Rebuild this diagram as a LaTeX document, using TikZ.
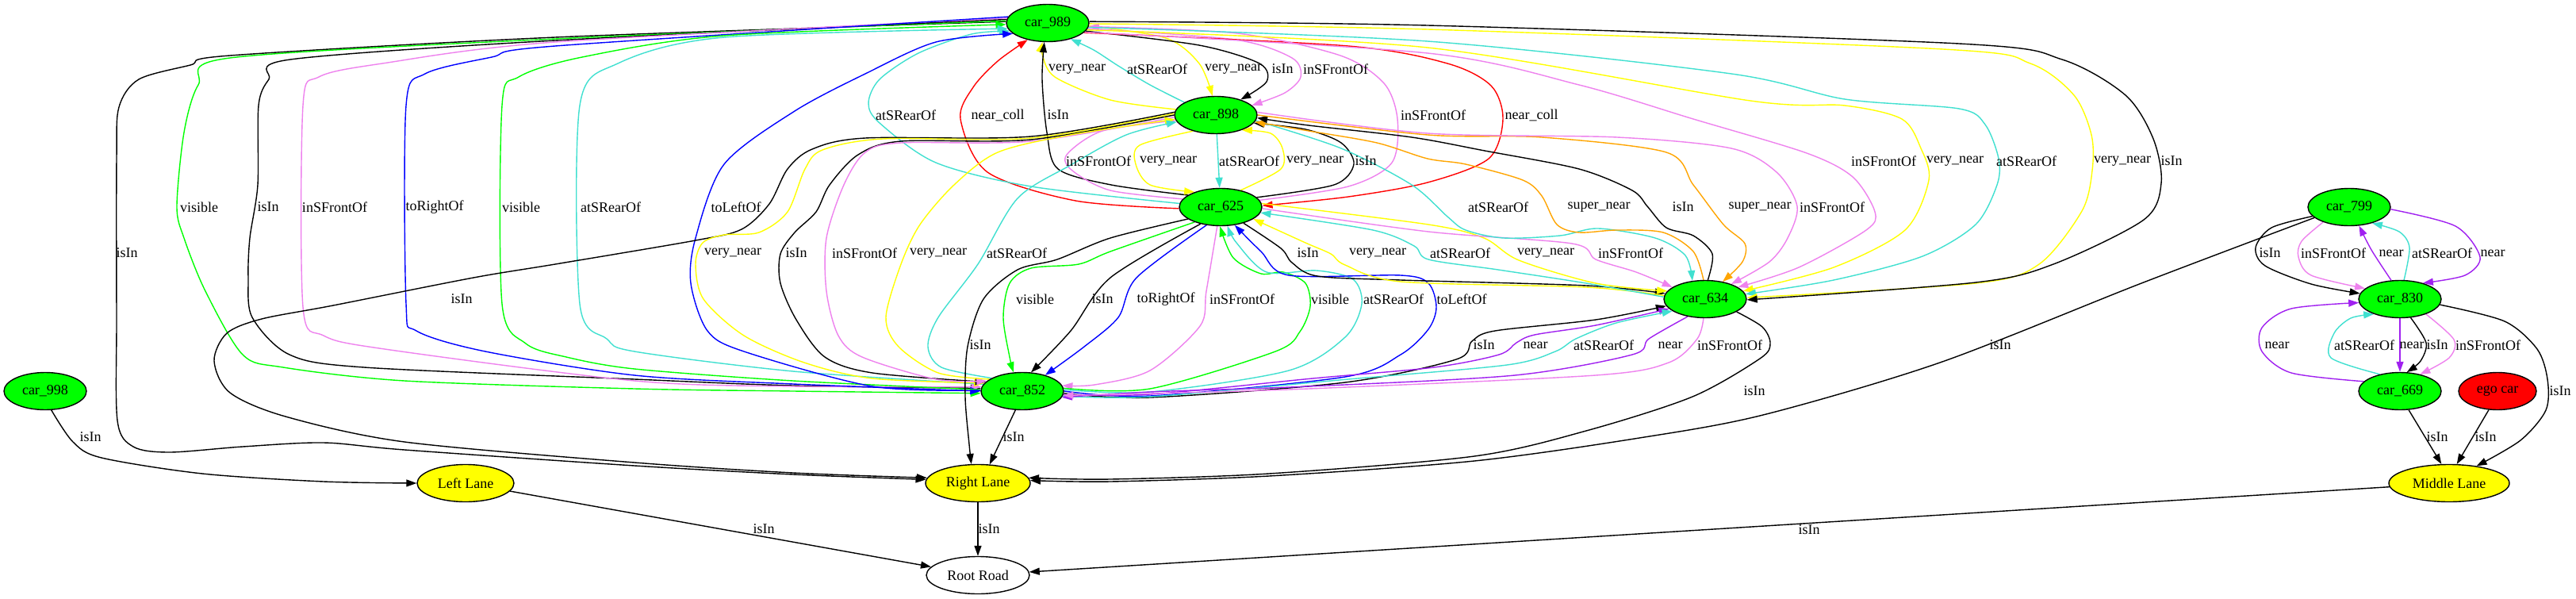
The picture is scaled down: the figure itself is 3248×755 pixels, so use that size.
\documentclass[tikz,border=0pt]{standalone}
\usepackage{fontspec}
\setmainfont{Liberation Serif}
\usetikzlibrary{shapes.geometric,arrows.meta}
\definecolor{gvgreen}{HTML}{00FF00}
\definecolor{gvyellow}{HTML}{FFFF00}
\definecolor{turq}{HTML}{40E0D0}
\definecolor{viol}{HTML}{EE82EE}
\definecolor{gvblue}{HTML}{0000FF}
\definecolor{gvred}{HTML}{FF0000}
\definecolor{gvorange}{HTML}{FFA500}
\definecolor{gvpurple}{HTML}{A020F0}
\pgfdeclarelayer{paper}
\pgfdeclarelayer{bg}
\pgfsetlayers{paper,bg,main}
\begin{document}
\begin{tikzpicture}[x=1pt,y=-1pt, font=\fontsize{18}{20}\selectfont,
 car/.style={ellipse, draw=black, line width=1.4pt, fill=gvgreen, minimum width=104pt, minimum height=47pt, inner sep=0pt},
 lane/.style={car, fill=gvyellow},
 lbl/.style={inner sep=0pt},
 e/.style={line width=1.4pt},
 arr/.style={-{Triangle[length=13pt,width=9pt]}}]
\useasboundingbox (0,0) rectangle (3248,755);
\begin{pgfonlayer}{paper}
\fill[white] (0,0) rectangle (3248,755);
\end{pgfonlayer}
% nodes
\node[car] (n989) at (1321,29) {car\_989};
\node[car] (n898) at (1533,145) {car\_898};
\node[car] (n625) at (1539,261) {car\_625};
\node[car] (n634) at (2150,377) {car\_634};
\node[car] (n852) at (1289,493) {car\_852};
\node[car] (n998) at (57,493) {car\_998};
\node[car] (n799) at (2962,261) {car\_799};
\node[car] (n830) at (3026,377) {car\_830};
\node[car] (n669) at (3026,493) {car\_669};
\node[car, fill=gvred, minimum width=98pt] (nego) at (3149,493) {ego car};
\node[lane, minimum width=122pt] (nll) at (587,609) {Left Lane};
\node[lane, minimum width=132pt] (nrl) at (1233,609) {Right Lane};
\node[lane, minimum width=152pt] (nml) at (3088,609) {Middle Lane};
\node[car, fill=white, minimum width=130pt] (nrr) at (1233,725) {Root Road};
% labels
\node[lbl] (l1) at (1358,87) {very\_near};
\node[lbl] (l2) at (1459,87) {atSRearOf};
\node[lbl] (l3) at (1555,87) {very\_near};
\node[lbl] (l4) at (1617,87) {isIn};
\node[lbl] (l5) at (1684,87) {inSFrontOf};
\node[lbl] (l6) at (1258,145) {near\_coll};
\node[lbl] (l7) at (1334,145) {isIn};
\node[lbl] (l8) at (1142,145) {atSRearOf};
\node[lbl] (l9) at (1931,145) {near\_coll};
\node[lbl] (l10) at (1807,145) {inSFrontOf};
\node[lbl] (l11) at (1385,203) {inSFrontOf};
\node[lbl] (l12) at (1473,203) {very\_near};
\node[lbl] (l13) at (1575,203) {atSRearOf};
\node[lbl] (l14) at (1658,203) {very\_near};
\node[lbl] (l15) at (1722,203) {isIn};
\node[lbl] (l16) at (160,319) {isIn};
\node[lbl] (l17) at (251,261) {visible};
\node[lbl] (l18) at (338,261) {isIn};
\node[lbl] (l19) at (422,261) {inSFrontOf};
\node[lbl] (l20) at (548,261) {toRightOf};
\node[lbl] (l21) at (657,261) {visible};
\node[lbl] (l22) at (770,261) {atSRearOf};
\node[lbl] (l23) at (928,261) {toLeftOf};
\node[lbl] (l24) at (582,377) {isIn};
\node[lbl] (l25) at (924,319) {very\_near};
\node[lbl] (l26) at (1004,319) {isIn};
\node[lbl] (l27) at (1090,319) {inSFrontOf};
\node[lbl] (l28) at (1183,319) {very\_near};
\node[lbl] (l29) at (1282,319) {atSRearOf};
\node[lbl] (l31) at (1236,435) {isIn};
\node[lbl] (l32) at (1305,377) {visible};
\node[lbl] (l33) at (1390,377) {isIn};
\node[lbl] (l34) at (1470,377) {toRightOf};
\node[lbl] (l35) at (1566,377) {inSFrontOf};
\node[lbl] (l36) at (1677,377) {visible};
\node[lbl] (l37) at (1757,377) {atSRearOf};
\node[lbl] (l38) at (1843,377) {toLeftOf};
\node[lbl] (l39) at (1649,319) {isIn};
\node[lbl] (l40) at (1737,319) {very\_near};
\node[lbl] (l41) at (1841,319) {atSRearOf};
\node[lbl] (l42) at (1949,319) {very\_near};
\node[lbl] (l43) at (2056,319) {inSFrontOf};
\node[lbl] (l44) at (1871,435) {isIn};
\node[lbl] (l45) at (1936,435) {near};
\node[lbl] (l46) at (2022,435) {atSRearOf};
\node[lbl] (l47) at (2106,435) {near};
\node[lbl] (l48) at (2181,435) {inSFrontOf};
\node[lbl] (l49) at (2212,493) {isIn};
\node[lbl] (l50) at (2522,435) {isIn};
\node[lbl] (l51) at (1889,261) {atSRearOf};
\node[lbl] (l52) at (2016,261) {super\_near};
\node[lbl] (l53) at (2122,261) {isIn};
\node[lbl] (l54) at (2219,261) {super\_near};
\node[lbl] (l55) at (2310,261) {inSFrontOf};
\node[lbl] (l56) at (2375,203) {inSFrontOf};
\node[lbl] (l57) at (2465,203) {very\_near};
\node[lbl] (l58) at (2555,203) {atSRearOf};
\node[lbl] (l59) at (2676,203) {very\_near};
\node[lbl] (l60) at (2738,203) {isIn};
\node[lbl] (l61) at (2862,319) {isIn};
\node[lbl] (l62) at (2942,319) {inSFrontOf};
\node[lbl] (l63) at (3015,319) {near};
\node[lbl] (l64) at (3079,319) {atSRearOf};
\node[lbl] (l65) at (3143,319) {near};
\node[lbl] (l66) at (3041,435) {near};
\node[lbl] (l67) at (3073,435) {isIn};
\node[lbl] (l68) at (3137,435) {inSFrontOf};
\node[lbl] (l69) at (2871,435) {near};
\node[lbl] (l70) at (2981,435) {atSRearOf};
\node[lbl] (l71) at (3228,493) {isIn};
\node[lbl] (l72) at (3073,551) {isIn};
\node[lbl] (l73) at (3134,551) {isIn};
\node[lbl] (l74) at (2281,668) {isIn};
\node[lbl] (l75) at (963,667) {isIn};
\node[lbl] (l76) at (1247,667) {isIn};
\node[lbl] (l77) at (114,551) {isIn};
\node[lbl] (l78) at (1278,551) {isIn};
\begin{pgfonlayer}{bg}
% 989-898-625
\draw[e,gvyellow,arr] plot[smooth] coordinates {(n898.172) (1400,126) (1330,97) (1314,68) (n989.-105)};
\draw[e,turq,arr] plot[smooth] coordinates {(n898.158) (1450,107) (1410,83) (1379,63) (n989.-35)};
\draw[e,gvyellow,arr] plot[smooth] coordinates {(n989.-4) (1470,48) (1512,80) (n898.100)};
\draw[e,black,arr] plot[smooth] coordinates {(n989.-12) (1512,57) (1588,80) (1597,103) (n898.32)};
\draw[e,viol,arr] plot[smooth] coordinates {(n989.-8) (1557,50) (1629,73) (1640,97) (1620,117) (n898.15)};
\draw[e,gvred,arr] plot[smooth] coordinates {(n625.182) (1356,253) (1245,217) (1211,150) (1227,110) (1258,77) (n989.-140)};
\draw[e,black,arr] plot[smooth] coordinates {(n625.160) (1401,233) (1334,213) (1320,167) (1314,100) (n989.-100)};
\draw[e,turq,arr] plot[smooth] coordinates {(n625.175) (1300,235) (1180,205) (1109,155) (1095,130) (1109,100) (1158,67) (1225,43) (n989.-168)};
\draw[e,gvred,arr] plot[smooth] coordinates {(n989.-15) (1700,58) (1825,80) (1880,108) (1895,150) (1877,200) (1800,230) (1700,248) (n625.2)};
\draw[e,viol,arr] plot[smooth] coordinates {(n625.10) (1700,235) (1755,205) (1762,150) (1745,105) (1690,70) (1560,42) (n989.-5)};
\draw[e,viol,arr] plot[smooth] coordinates {(n625.168) (1400,240) (1352,215) (1345,195) (1390,165) (n898.-172)};
\draw[e,gvyellow,arr] plot[smooth] coordinates {(n898.-145) (1437,183) (1432,207) (1450,233) (n625.150)};
\draw[e,turq,arr] (n898) -- (n625);
\draw[e,gvyellow,arr] plot[smooth] coordinates {(n625.40) (1615,213) (1617,187) (1602,168) (n898.-30)};
\draw[e,black,arr] plot[smooth] coordinates {(n625.15) (1682,233) (1707,207) (1691,180) (1646,163) (n898.-12)};
% 989 left side
\draw[e,black,arr] plot[smooth] coordinates {(n989.178) (700,47) (290,70) (240,82) (175,100) (150,135) (147,200) (147,400) (148,530) (168,563) (214,570) (306,563) (408,558) (510,567) (800,587) (1000,598) (nrl.176)};
\draw[e,gvgreen,arr] plot[smooth] coordinates {(n989.177) (700,49) (290,73) (250,107) (232,167) (223,260) (232,300) (259,367) (306,447) (357,463) (510,480) (800,490) (1000,493) (n852.183)};
\draw[e,black,arr] plot[smooth] coordinates {(n989.175) (700,51) (366,75) (339,100) (326,133) (325,233) (315,300) (313,350) (318,400) (365,447) (459,463) (800,478) (1000,486) (n852.176)};
\draw[e,viol,arr] plot[smooth] coordinates {(n989.173) (700,53) (482,80) (402,97) (382,133) (382,387) (408,423) (485,440) (800,480) (1000,487) (n852.174)};
\draw[e,gvblue,arr] plot[smooth] coordinates {(n989.171) (700,58) (620,72) (536,93) (512,133) (512,383) (525,417) (612,443) (800,473) (1000,484) (n852.180)};
\draw[e,gvgreen,arr] plot[smooth] coordinates {(n852.178) (1000,480) (800,465) (714,450) (663,433) (633,383) (633,133) (654,97) (734,72) (912,45) (n989.-178)};
\draw[e,turq,arr] plot[smooth] coordinates {(n852.170) (1000,468) (800,443) (765,427) (731,383) (731,133) (779,80) (913,47) (n989.-172)};
\draw[e,gvblue,arr] plot[smooth] coordinates {(n852.179) (1100,487) (938,443) (892,417) (871,357) (877,300) (913,207) (1002,140) (1091,93) (1180,53) (n989.-163)};
% 898 left side
\draw[e,black,arr] plot[smooth] coordinates {(n898.176) (1300,172) (1091,174) (1024,188) (993,213) (970,257) (935,289) (877,303) (700,333) (597,350) (420,385) (330,402) (286,420) (270,455) (290,495) (360,525) (510,557) (800,583) (1000,596) (nrl.174)};
\draw[e,gvyellow,arr] plot[smooth] coordinates {(n898.178) (1300,174) (1113,175) (1037,189) (1015,213) (993,267) (957,293) (913,296) (886,306) (877,333) (887,377) (938,423) (1014,457) (1100,477) (n852.168)};
\draw[e,black,arr] plot[smooth] coordinates {(n898.180) (1300,176) (1136,178) (1082,195) (1046,233) (1029,267) (1002,293) (984,320) (984,357) (1004,403) (1040,450) (1100,470) (n852.166)};
\draw[e,viol,arr] plot[smooth] coordinates {(n898.183) (1300,178) (1136,180) (1091,192) (1064,233) (1042,300) (1042,367) (1057,423) (1087,450) (1180,478) (n852.164)};
\draw[e,gvyellow,arr] plot[smooth] coordinates {(n852.160) (1183,470) (1133,437) (1117,400) (1136,333) (1160,283) (1203,233) (1258,192) (1350,170) (n898.186)};
\draw[e,turq,arr] plot[smooth] coordinates {(n852.157) (1187,463) (1170,437) (1183,400) (1233,333) (1283,250) (1350,208) (1420,170) (n898.-170)};
% 625 to 852 and Right Lane
\draw[e,black,arr] plot[smooth] coordinates {(n625.-160) (1400,300) (1333,327) (1283,340) (1240,377) (1220,437) (1217,500) (1222,560) (nrl.109)};
\draw[e,gvgreen,arr] plot[smooth] coordinates {(n625.-150) (1400,317) (1360,333) (1300,338) (1273,357) (1265,400) (1273,450) (n852.115)};
\draw[e,black,arr] plot[smooth] coordinates {(n625.-140) (1400,350) (1350,417) (n852.65)};
\draw[e,gvblue,arr] plot[smooth] coordinates {(n625.-128) (1433,350) (1410,400) (1367,437) (n852.35)};
\draw[e,viol,arr] plot[smooth] coordinates {(n625.-100) (1521,367) (1513,411) (1450,467) (1380,485) (n852.8)};
\draw[e,gvgreen,arr] plot[smooth] coordinates {(n852.4) (1450,490) (1608,443) (1639,418) (1652,386) (1646,357) (1618,343) (1590,345) (1555,325) (n625.-92)};
\draw[e,turq,arr] plot[smooth] coordinates {(n852.2) (1450,494) (1625,467) (1696,425) (1717,383) (1706,352) (1660,341) (1597,343) (1559,306) (n625.-70)};
\draw[e,gvblue,arr] plot[smooth] coordinates {(n852.0) (1450,499) (1696,475) (1766,447) (1801,415) (1811,387) (1801,357) (1766,347) (1625,347) (1590,317) (n625.-52)};
% 625 <-> 634
\draw[e,black,arr] plot[smooth] coordinates {(n625.-35) (1615,313) (1629,331) (1661,348) (1766,353) (2000,360) (n634.172)};
\draw[e,gvyellow,arr] plot[smooth] coordinates {(n634.175) (2000,362) (1766,355) (1696,334) (1678,320) (1646,306) (n625.-20)};
\draw[e,turq,arr] plot[smooth] coordinates {(n634.177) (2000,357) (1889,340) (1801,327) (1783,310) (1731,290) (n625.-8)};
\draw[e,gvyellow,arr] plot[smooth] coordinates {(n625.5) (1801,283) (1871,300) (1915,328) (2012,357) (n634.168)};
\draw[e,viol,arr] plot[smooth] coordinates {(n625.-2) (1801,292) (1982,307) (2012,327) (2063,343) (n634.160)};
% 852 <-> 634
\draw[e,black,arr] plot[smooth] coordinates {(n852.-3) (1450,501) (1696,482) (1836,453) (1856,430) (1885,417) (2012,403) (n634.190)};
\draw[e,gvpurple,arr] plot[smooth] coordinates {(n852.-5) (1450,497) (1655,477) (1808,463) (1890,447) (1912,432) (1935,422) (2012,410) (n634.195)};
\draw[e,turq,arr] plot[smooth] coordinates {(n852.-7) (1450,500) (1700,478) (1900,460) (1961,443) (1987,427) (2038,407) (n634.200)};
\draw[e,gvpurple,arr] plot[smooth] coordinates {(n634.-135) (2079,427) (2058,447) (1910,473) (1650,487) (1450,494) (n852.-9)};
\draw[e,viol,arr] plot[smooth] coordinates {(n634.-95) (2140,427) (2104,457) (2012,473) (1650,490) (1450,496) (n852.-6)};
% to Right Lane
\draw[e,black,arr] plot[smooth] coordinates {(n634.-22) (2222,412) (2232,433) (2219,452) (2134,500) (2000,543) (1859,575) (1600,597) (1400,604) (nrl.6)};
\draw[e,black,arr] plot[smooth] coordinates {(n799.-163) (2700,357) (2446,457) (2223,523) (2067,552) (1859,581) (1600,600) (1400,607) (nrl.3)};
% 898 <-> 634
\draw[e,turq,arr] plot[smooth] coordinates {(n898.-8) (1691,187) (1780,233) (1825,273) (1848,290) (1896,300) (1967,297) (2015,288) (2087,300) (2125,322) (n634.125)};
\draw[e,gvorange,arr] plot[smooth] coordinates {(n634.95) (2135,317) (2097,293) (2039,290) (1991,293) (1963,283) (1944,247) (1920,227) (1848,207) (1800,200) (1736,180) (1650,165) (n898.-10)};
\draw[e,black,arr] plot[smooth] coordinates {(n634.82) (2159,320) (2135,297) (2101,287) (2077,260) (2058,240) (1991,213) (1872,190) (1780,173) (1650,158) (n898.-4)};
\draw[e,gvorange,arr] plot[smooth] coordinates {(n898.0) (1800,170) (1944,173) (2101,192) (2135,233) (2173,283) (2200,307) (2197,330) (n634.45)};
\draw[e,viol,arr] plot[smooth] coordinates {(n898.4) (1800,168) (2039,173) (2183,187) (2240,217) (2266,260) (2254,300) (2231,330) (n634.30)};
% 989 -> 634
\draw[e,viol,arr] plot[smooth] coordinates {(n989.-14) (1800,67) (1991,107) (2135,150) (2278,193) (2336,223) (2364,267) (2353,290) (2268,337) (n634.20)};
\draw[e,gvyellow,arr] plot[smooth] coordinates {(n989.-10) (1800,60) (2207,127) (2326,133) (2398,150) (2422,187) (2432,227) (2402,290) (2312,337) (n634.12)};
\draw[e,turq,arr] plot[smooth] coordinates {(n989.-6) (1800,52) (2183,93) (2326,125) (2470,137) (2503,157) (2520,200) (2518,233) (2491,283) (2424,323) (2312,353) (n634.7)};
\draw[e,gvyellow,arr] plot[smooth] coordinates {(n989.-1) (1800,37) (2450,62) (2560,80) (2615,120) (2637,170) (2638,215) (2625,266) (2571,333) (2491,357) (n634.2)};
\draw[e,black,arr] plot[smooth] coordinates {(n989.2) (1800,32) (2470,55) (2600,75) (2680,120) (2715,175) (2725,231) (2703,277) (2589,333) (2491,356) (n634.-1)};
% right cluster
\draw[e,black,arr] plot[smooth] coordinates {(n799.-166) (2864,287) (2844,312) (2856,335) (2914,358) (n830.172)};
\draw[e,viol,arr] plot[smooth] coordinates {(n799.-150) (2902,304) (2898,324) (2914,347) (n830.163)};
\draw[e,gvpurple,arr] plot[smooth] coordinates {(n830.115) (2990,315) (n799.-62)};
\draw[e,turq,arr] plot[smooth] coordinates {(n830.78) (3038,312) (3025,292) (n799.-35)};
\draw[e,gvpurple,arr] plot[smooth] coordinates {(n799.-3) (3096,285) (3127,324) (3108,347) (n830.35)};
\draw[e,gvpurple,arr] (n830) -- (n669);
\draw[e,black,arr] plot[smooth] coordinates {(n830.-60) (3059,432) (3052,455) (n669.70)};
\draw[e,viol,arr] plot[smooth] coordinates {(n830.-30) (3094,428) (3088,451) (n669.40)};
\draw[e,gvpurple,arr] plot[smooth] coordinates {(n669.165) (2889,470) (2852,443) (2852,413) (2889,389) (n830.-175)};
\draw[e,turq,arr] plot[smooth] coordinates {(n669.140) (2939,451) (2943,420) (2964,401) (n830.-150)};
\draw[e,black,arr] plot[smooth] coordinates {(n830.-8) (3158,405) (3199,440) (3212,478) (3210,517) (3178,555) (nml.32)};
\draw[e,black,arr] (n669.-65) -- (nml.112);
\draw[e,black,arr] (nego.-115) -- (nml.68);
% roads
\draw[e,black,arr] (nml) -- (nrr);
\draw[e,black,arr] (nll) -- (nrr);
\draw[e,black,arr] (nrl) -- (nrr);
\draw[e,black,arr] plot[smooth] coordinates {(n998.-72) (92,557) (128,577) (255,597) (408,607) (nll.180)};
\draw[e,black,arr] (n852.-110) -- (nrl.58);
\end{pgfonlayer}
\end{tikzpicture}
\end{document}
